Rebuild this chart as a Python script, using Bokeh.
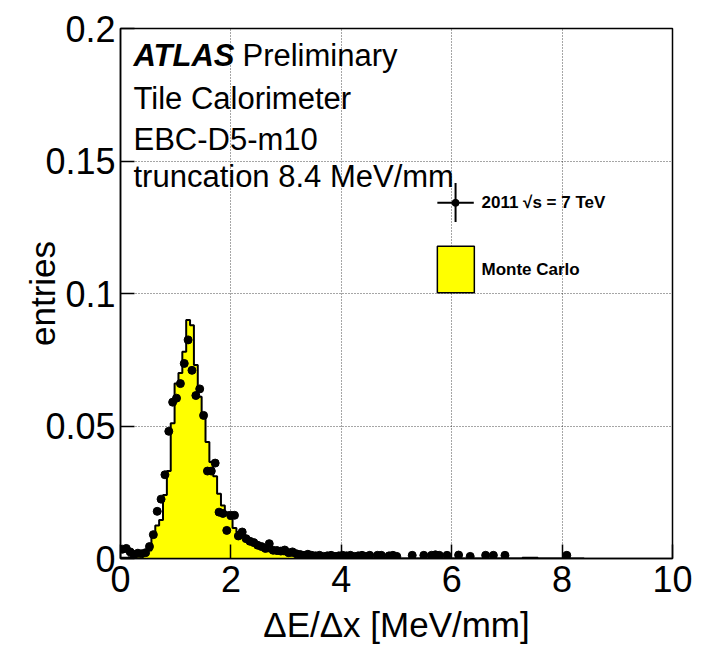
import numpy as np
from bokeh.plotting import figure
from bokeh.models import FixedTicker
from bokeh.embed import file_html
from bokeh.resources import INLINE
from bokeh.core.properties import value

# ---------------- data ----------------
x_low, x_high, n_bins = 0.0, 8.4, 120
bin_edges = np.linspace(x_low, x_high, n_bins + 1)

mc_values = [
    0.0003, 0.0003, 0.0005, 0.0006, 0.0008, 0.0010, 0.0015, 0.0030, 0.0085, 0.0125,
    0.0145, 0.0240, 0.0330, 0.0510, 0.0660, 0.0700, 0.0780, 0.0900, 0.0880, 0.0730,
    0.0610, 0.0545, 0.0440, 0.0364, 0.0310, 0.0244, 0.0200, 0.0175, 0.0150, 0.0115,
    0.0100, 0.0085, 0.0072, 0.0060, 0.0050, 0.0045, 0.0038, 0.0033, 0.0027, 0.0024,
    0.0020, 0.0019, 0.0016, 0.0012, 0.0010, 0.0008, 0.0007, 0.0006, 0.0005, 0.0005,
    0.0004, 0.0004, 0.0003, 0.0003, 0.0003, 0.0002, 0.0002, 0.0002, 0.0002, 0.0001,
    0.0001, 0.0001, 0.0001, 0.0001, 0.0001, 0.0001, 0.0001, 0.0001, 0.0001, 0.0001,
    0.0001, 0.0001, 0, 0, 0, 0, 0, 0, 0, 0,
    0, 0, 0, 0, 0, 0, 0, 0, 0, 0,
    0, 0, 0, 0, 0, 0, 0, 0, 0, 0,
    0, 0, 0, 0, 0.0003, 0.0003, 0.0003, 0.0003, 0, 0,
    0, 0, 0, 0, 0, 0, 0, 0, 0, 0,
]

data_values = [
    0.0035, 0.0038, 0.0025, 0.0015, 0.0020, 0.0018, 0.0022, 0.0045, 0.0090, 0.0178,
    0.0224, 0.0316, 0.0480, 0.0590, 0.0605, 0.0660, 0.0736, 0.0825, 0.0710, 0.0615,
    0.0640, 0.0540, 0.0330, 0.0330, 0.0360, 0.0175, 0.0170, 0.0106, 0.0163, 0.0163,
    0.0085, 0.0100, 0.0075, 0.0065, 0.0060, 0.0050, 0.0045, 0.0038, 0.0056, 0.0031,
    0.0030, 0.0028, 0.0032, 0.0022, 0.0025, 0.0018, 0.0015, 0.0012, 0.0016, 0.0012,
    0.0010, 0.0012, 0.0008, 0.0010, 0.0012, 0.0008, 0.0010, 0.0012, 0.0010, 0.0012,
    0.0008, 0.0010, 0.0012, 0.0008, 0.0012, 0, 0.0012, 0.0012, 0, 0.0010,
    0.0012, 0.0008, 0, 0, 0, 0.0012, 0, 0, 0.0012, 0,
    0.0012, 0.0014, 0.0012, 0, 0.0012, 0, 0, 0.0013, 0, 0,
    0.0008, 0, 0, 0, 0.0012, 0, 0.0012, 0, 0, 0.0012,
    0, 0, 0, 0, 0, 0, 0, 0, 0, 0,
    0, 0, 0, 0, 0, 0.0012, 0, 0, 0, 0,
]

x_ticks = [0, 2, 4, 6, 8, 10]
y_ticks = [0, 0.05, 0.1, 0.15, 0.2]
y_tick_labels = ["0", "0.05", "0.1", "0.15", "0.2"]

header_lines = ["Tile Calorimeter", "EBC-D5-m10", "truncation 8.4 MeV/mm"]
legend_data_label = "2011 \u221as = 7 TeV"
legend_mc_label = "Monte Carlo"

# ---------------- figure ----------------
FONT = "Liberation Sans"
p = figure(width=709, height=646, x_range=(0, 10), y_range=(0, 0.2),
           output_backend="svg", toolbar_location=None,
           min_border_left=120, min_border_right=37,
           min_border_top=28, min_border_bottom=86)
p.background_fill_color = "white"
p.border_fill_color = "white"
p.outline_line_color = "black"
p.outline_line_width = 1.5

mc = np.array(mc_values)
dat = np.array(data_values)
centers = 0.5 * (bin_edges[:-1] + bin_edges[1:])

# MC histogram as one stepped polygon (fill + outline)
step_x = np.concatenate([[bin_edges[0]], np.repeat(bin_edges[1:-1], 2), [bin_edges[-1]]])
step_y = np.repeat(mc, 2)
step_x = np.concatenate([[bin_edges[0]], step_x, [bin_edges[-1]]])
step_y = np.concatenate([[0], step_y, [0]])
p.patch(step_x, step_y, fill_color="#ffff00", line_color=None)
p.line(step_x, step_y, line_color="black", line_width=2)

# data points
mask = dat > 0
p.scatter(centers[mask], dat[mask], size=8, marker="circle",
          fill_color="black", line_color="black")

# axes
for ax in (p.xaxis[0], p.yaxis[0]):
    ax.major_label_text_font = FONT
    ax.major_label_text_font_size = "36px"
    ax.major_label_text_color = "black"
    ax.axis_label_text_font = FONT
    ax.axis_label_text_font_size = "35px"
    ax.axis_label_text_font_style = "normal"
    ax.axis_label_text_color = "black"
    ax.major_tick_in = 14
    ax.major_tick_out = 0
    ax.minor_tick_in = 0
    ax.minor_tick_out = 0
    ax.axis_line_color = "black"
    ax.axis_line_width = 1.5
    ax.major_tick_line_color = "black"
    ax.major_tick_line_width = 1.5

p.xaxis.ticker = FixedTicker(ticks=x_ticks)
p.yaxis.ticker = FixedTicker(ticks=y_ticks)
p.yaxis.major_label_overrides = {t: s for t, s in zip(y_ticks, y_tick_labels)}
p.xaxis.axis_label = "\u0394E/\u0394x [MeV/mm]"
p.yaxis.axis_label = "entries"
p.xaxis.major_label_standoff = 7
p.yaxis.major_label_standoff = 5
p.xaxis.axis_label_standoff = 10
p.yaxis.axis_label_standoff = -20

for g in (p.xgrid[0], p.ygrid[0]):
    g.grid_line_color = "black"
    g.grid_line_dash = "1 2"
    g.grid_line_width = 1
    g.grid_line_alpha = 0.7

# header texts
p.text(x=[0.235], y=[0.1898], text=["ATLAS"], text_font=value(FONT),
       text_font_size="31px", text_font_style="bold italic",
       text_baseline="alphabetic", text_color="black")
p.text(x=[2.21], y=[0.1898], text=["Preliminary"], text_font=value(FONT),
       text_font_size="31px", text_baseline="alphabetic", text_color="black")
p.text(x=[0.235] * 3, y=[0.1737, 0.1583, 0.1440], text=header_lines,
       text_font=value(FONT), text_font_size="31px",
       text_baseline="alphabetic", text_color="black")

# legend: data entry
p.segment(x0=[5.74, 6.07], y0=[0.1342, 0.1270], x1=[6.40, 6.07], y1=[0.1342, 0.1417],
          line_color="black", line_width=2)
p.scatter([6.07], [0.1342], size=7, marker="circle", fill_color="black",
          line_color="black")
p.text(x=[6.54], y=[0.1342], text=[legend_data_label], text_font=value(FONT),
       text_font_size="17px", text_font_style="bold",
       text_baseline="middle", text_color="black")
# legend: MC entry
p.quad(left=[5.74], right=[6.41], bottom=[0.1003], top=[0.1178],
       fill_color="#ffff00", line_color="black", line_width=1.5)
p.text(x=[6.54], y=[0.109], text=[legend_mc_label], text_font=value(FONT),
       text_font_size="17px", text_font_style="bold",
       text_baseline="middle", text_color="black")

open("out.html", "w").write(file_html(p, INLINE))
